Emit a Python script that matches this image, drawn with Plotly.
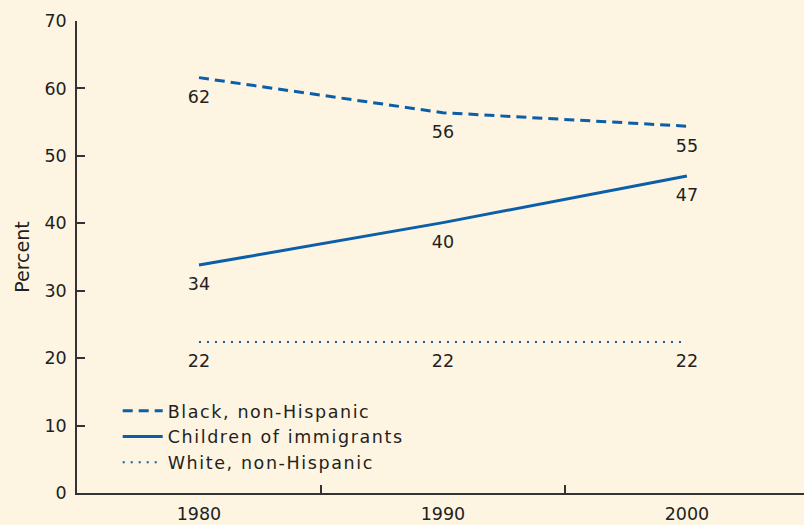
import plotly.graph_objects as go

years = [1980, 1990, 2000]
black_vals = [61.6, 56.4, 54.4]
black_labels = ["62", "56", "55"]
child_vals = [33.8, 40.1, 47.0]
child_labels = ["34", "40", "47"]
white_vals = [22.4, 22.4, 22.4]
white_labels = ["22", "22", "22"]
y_ticks = [0, 10, 20, 30, 40, 50, 60, 70]
x_minor_ticks = [1985, 1995]

BLUE = "#0b5ea8"
TXT = "#231f20"
BG = "#fdf4e2"
FONT = "DejaVu Sans, sans-serif"
FS = 17.5

def series(x, y, labels, name, width, dash):
    return go.Scatter(
        x=x, y=y, mode="lines+markers+text", name=name,
        text=labels, textposition="bottom center",
        textfont=dict(size=FS, color=TXT, family=FONT),
        marker=dict(size=18, color="rgba(0,0,0,0)"),
        line=dict(color=BLUE, width=width, dash=dash))

fig = go.Figure()
fig.add_trace(series(years, black_vals, black_labels, "Black, non-Hispanic", 3, "10px,6px"))
fig.add_trace(series(years, child_vals, child_labels, "Children of immigrants", 3, "solid"))
fig.add_trace(series(years, white_vals, white_labels, "White, non-Hispanic", 2, "2px,6px"))

fig.update_layout(
    width=804, height=525,
    margin=dict(l=77, r=0, t=21, b=32, autoexpand=False),
    paper_bgcolor=BG, plot_bgcolor=BG,
    font=dict(family=FONT, size=FS, color=TXT),
    showlegend=True,
    legend=dict(x=0.056, y=0.212, xanchor="left", yanchor="top",
                bgcolor="rgba(0,0,0,0)", font=dict(size=17.5, color=TXT, family=FONT),
                itemwidth=40, tracegroupgap=0),
    xaxis=dict(range=[1975, 2004.8], tickvals=years, ticktext=[str(y) for y in years],
               ticks="", showgrid=False, zeroline=False, automargin=False,
               showline=True, linecolor="#333333", linewidth=1.5,
               ticklabelstandoff=4,
               minor=dict(tickvals=x_minor_ticks, ticks="inside", ticklen=8,
                          tickcolor="#333333", tickwidth=1.5, showgrid=False)),
    yaxis=dict(range=[0, 70], tickvals=y_ticks, ticks="inside", ticklen=8,
               tickcolor="#333333", tickwidth=1.5, showgrid=False, zeroline=False,
               showline=True, linecolor="#333333", linewidth=1.5, automargin=False,
               ticklabelstandoff=5,
               title=dict(text="Percent", font=dict(size=19), standoff=10)),
)

post = (
    "document.body.style.margin='0';"
    "document.body.style.background='" + BG + "';"
    "document.querySelectorAll('.legendtext').forEach(function(e){e.style.letterSpacing='1.6px';});"
    "document.querySelectorAll('.legend .scrollbox, .legend').forEach(function(e){e.removeAttribute('clip-path');});"
)

fig.write_html("out.html", post_script=post, config={"displayModeBar": False})
